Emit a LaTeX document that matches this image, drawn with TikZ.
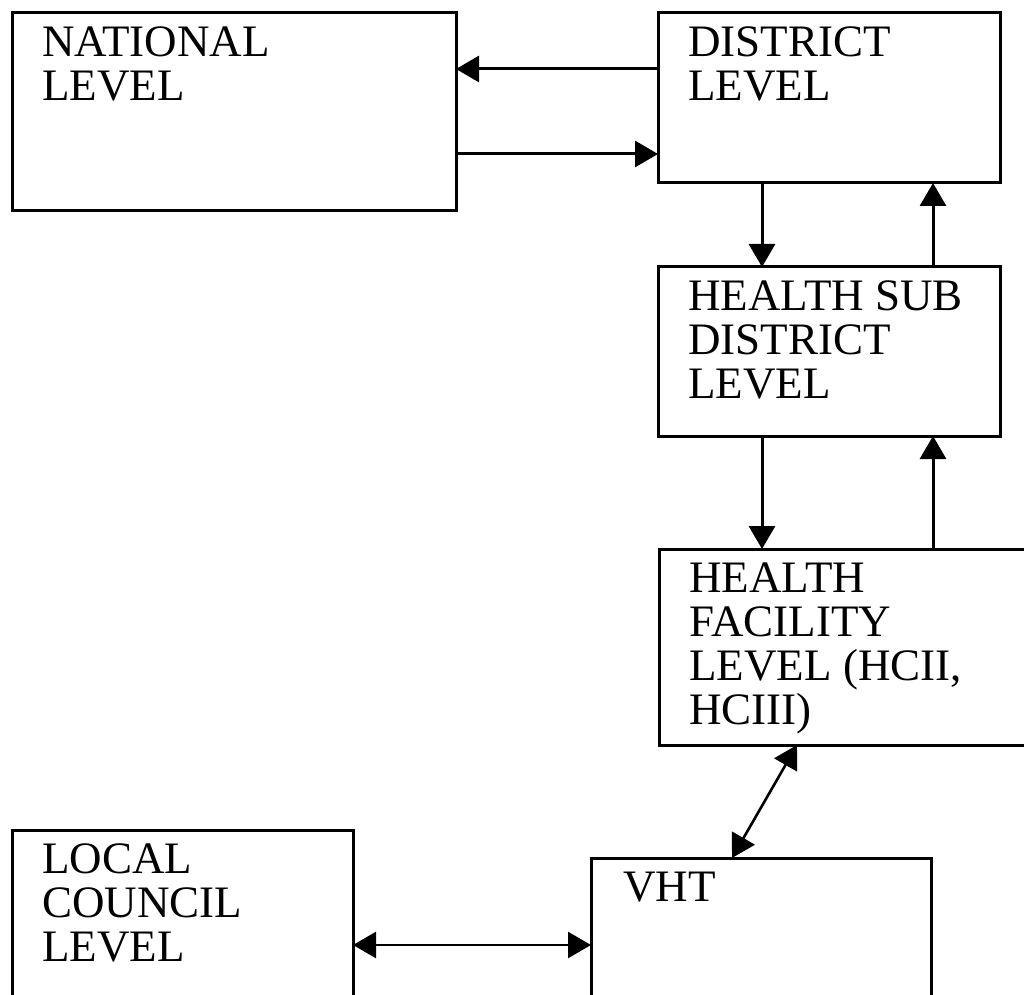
\documentclass[tikz,border=0pt]{standalone}
\usepackage{fontspec}
\setmainfont{Liberation Serif}
\usetikzlibrary{arrows.meta}

\begin{document}
\begin{tikzpicture}[x=0.5pt,y=-0.5pt,
    box/.style={draw,rectangle,line width=1.5pt,outer sep=0pt},
    lbl/.style={anchor=north west,inner sep=0pt,align=left,xshift=15pt,yshift=-6.6pt,
      font=\fontsize{22.5}{22}\selectfont},
    arr/.style={line width=1.5pt,-{Triangle[length=11.5pt,width=13pt]}},
    twoway/.style={line width=1.3pt,{Triangle[length=11.5pt,width=13pt]}-{Triangle[length=11.5pt,width=13pt]}}]
  \useasboundingbox (0,0) rectangle (1024,995);
  \clip (0,0) rectangle (1024,995);

  \draw (234,112) node[box,minimum width=222pt,minimum height=99pt,
    label={[lbl]north west:{NATIONAL\\LEVEL}}] (nat) {};
  \draw (829,98) node[box,minimum width=171pt,minimum height=85pt,
    label={[lbl]north west:{DISTRICT\\LEVEL}}] (dist) {};
  \draw (829,351.5) node[box,minimum width=171pt,minimum height=84.5pt,
    label={[lbl]north west:{HEALTH SUB\\DISTRICT\\LEVEL}}] (sub) {};
  \draw (850,647) node[box,minimum width=191pt,minimum height=98pt,
    label={[lbl]north west:{HEALTH\\FACILITY\\LEVEL (HCII,\\HCIII)}}] (fac) {};
  \draw (182.5,920) node[box,minimum width=170.5pt,minimum height=90pt,
    label={[lbl]north west:{LOCAL\\COUNCIL\\LEVEL}}] (loc) {};
  \draw (761,934) node[box,minimum width=170pt,minimum height=76pt,
    label={[lbl,xshift=1pt]north west:{VHT}}] (vht) {};

  \draw[arr] (dist.west |- 0,69) -- (nat.east |- 0,69);
  \draw[arr] (nat.east |- 0,154) -- (dist.west |- 0,154);
  \draw[arr] (dist.south -| 762,0) -- (sub.north -| 762,0);
  \draw[arr] (sub.north -| 933,0) -- (dist.south -| 933,0);
  \draw[arr] (sub.south -| 762,0) -- (fac.north -| 762,0);
  \draw[arr] (fac.north -| 933,0) -- (sub.south -| 933,0);
  \draw[twoway] (fac.south -| 797,0) -- (vht.north -| 732,0);
  \draw[twoway] (loc.east |- 0,945) -- (vht.west |- 0,945);
\end{tikzpicture}
\end{document}
